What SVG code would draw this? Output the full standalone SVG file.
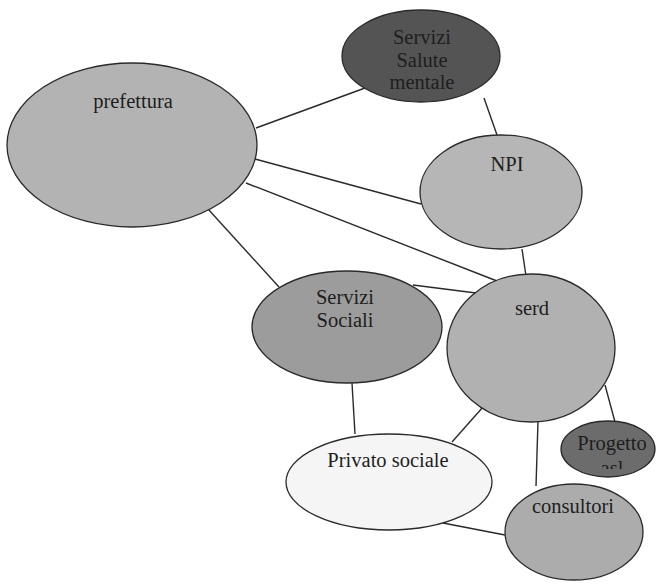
<svg xmlns="http://www.w3.org/2000/svg" width="659" height="585" viewBox="0 0 659 585">
<style>
.n{stroke:#2a2a2a;stroke-width:1.3}
.t{font-family:"Liberation Serif","Times New Roman",serif;font-size:20.5px;fill:#1e1e1e;text-anchor:middle}
.c{stroke:#2a2a2a;stroke-width:1.4;fill:none}
</style>
<defs><clipPath id="clipAsl"><rect x="560" y="420" width="100" height="49"/></clipPath></defs>
<rect width="659" height="585" fill="#ffffff"/>
<g id="connectors">
<line class="c" x1="256" y1="128" x2="365" y2="88"/>
<line class="c" x1="484" y1="98" x2="497" y2="135"/>
<line class="c" x1="255" y1="159" x2="421" y2="204"/>
<line class="c" x1="246" y1="183" x2="497" y2="281"/>
<line class="c" x1="208" y1="209" x2="279" y2="287"/>
<line class="c" x1="413" y1="285" x2="476" y2="293"/>
<line class="c" x1="522" y1="249" x2="526" y2="276"/>
<line class="c" x1="352" y1="383" x2="355" y2="434"/>
<line class="c" x1="483" y1="407" x2="452" y2="442"/>
<line class="c" x1="538" y1="421" x2="536" y2="486"/>
<line class="c" x1="605" y1="385" x2="615" y2="422"/>
<line class="c" x1="443" y1="523" x2="505" y2="535"/>
</g>
<g id="salute-mentale">
<ellipse class="n" cx="421" cy="56" rx="79" ry="46" fill="#545454"/>
<text class="t" x="422" y="44">Servizi</text>
<text class="t" x="422" y="67">Salute</text>
<text class="t" x="422" y="89">mentale</text>
</g>
<g id="prefettura">
<ellipse class="n" cx="132" cy="145" rx="125" ry="82" fill="#b3b3b3"/>
<text class="t" x="133" y="108">prefettura</text>
</g>
<g id="npi">
<ellipse class="n" cx="501" cy="192" rx="81" ry="57" fill="#b6b6b6"/>
<text class="t" x="507" y="171">NPI</text>
</g>
<g id="servizi-sociali">
<ellipse class="n" cx="347" cy="327" rx="95" ry="56" fill="#9c9c9c"/>
<text class="t" x="345" y="304">Servizi</text>
<text class="t" x="345" y="327">Sociali</text>
</g>
<g id="serd">
<ellipse class="n" cx="531" cy="348" rx="84" ry="74" fill="#b1b1b1"/>
<text class="t" x="532" y="315">serd</text>
</g>
<g id="progetto-asl">
<ellipse class="n" cx="608" cy="449" rx="47" ry="28" fill="#6c6c6c"/>
<text class="t" x="612" y="450">Progetto</text>
<text class="t" x="612" y="475" clip-path="url(#clipAsl)">asl</text>
</g>
<g id="privato-sociale">
<ellipse class="n" cx="389" cy="482" rx="103" ry="48" fill="#f5f5f5"/>
<text class="t" x="388" y="467">Privato sociale</text>
</g>
<g id="consultori">
<ellipse class="n" cx="574" cy="532" rx="69" ry="48" fill="#acacac"/>
<text class="t" x="573" y="513">consultori</text>
</g>
</svg>
